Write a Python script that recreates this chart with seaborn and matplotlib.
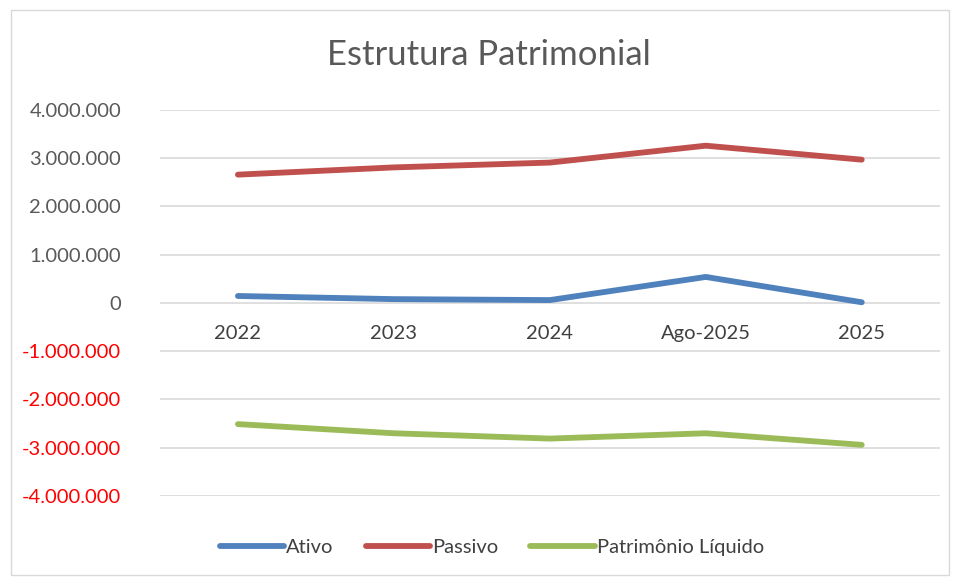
import matplotlib
matplotlib.use("Agg")
import matplotlib.pyplot as plt
import matplotlib.patches as mpatches
import pandas as pd
import seaborn as sns

# values
anos = ["2022", "2023", "2024", "Ago-2025", "2025"]
ativo = [145000, 80000, 60000, 540000, 15000]
passivo = [2660000, 2810000, 2910000, 3260000, 2970000]
patrimonio = [-2510000, -2700000, -2810000, -2700000, -2940000]
series = ["Ativo", "Passivo", "Patrimônio Líquido"]
cores = ["#4F81BD", "#C0504D", "#9BBB59"]
yticks = [-4000000, -3000000, -2000000, -1000000, 0, 1000000, 2000000, 3000000, 4000000]

df = pd.DataFrame({
    "ano": anos * 3,
    "valor": ativo + passivo + patrimonio,
    "serie": [s for s in series for _ in anos],
})

sns.set_theme(style="white")
plt.rcParams["font.family"] = ["Lato", "DejaVu Sans"]

fig = plt.figure(figsize=(9.55, 5.81), dpi=100)
ax = fig.add_axes([0.1675, 0.1463, 0.8165, 0.6644])

sns.lineplot(data=df, x="ano", y="valor", hue="serie", hue_order=series,
             palette=cores, sort=False, linewidth=4.2, ax=ax, legend=True)
for ln in ax.lines:
    ln.set_solid_capstyle("round")

ax.set_xlim(-0.5, len(anos) - 0.5)
ax.set_ylim(yticks[0], yticks[-1])
ax.set_yticks(yticks)
ax.set_yticklabels([f"{v:,}".replace(",", ".") for v in yticks])
for lbl, v in zip(ax.get_yticklabels(), yticks):
    lbl.set_color("#FF0000" if v < 0 else "#595959")
ax.tick_params(axis="y", labelsize=14.5, length=0, pad=28)
ax.grid(axis="y", color="#D9D9D9", linewidth=1.2)
ax.set_axisbelow(True)

# category axis crosses at zero
ax.spines["bottom"].set_position(("data", 0))
ax.spines["bottom"].set_visible(False)
for s in ["top", "right", "left"]:
    ax.spines[s].set_visible(False)
ax.tick_params(axis="x", labelsize=14.5, labelcolor="#404040", length=0, pad=16)
ax.set_xlabel("")
ax.set_ylabel("")

fig.text(0.512, 0.905, "Estrutura Patrimonial", ha="center", va="center",
         fontsize=25, color="#595959")

handles, labels = ax.get_legend_handles_labels()
ax.legend(handles, labels, loc="center", bbox_to_anchor=(0.515, 0.057),
          bbox_transform=fig.transFigure, ncol=3, frameon=False,
          fontsize=14.5, handlelength=3.2, handletextpad=0.1, columnspacing=1.6,
          labelcolor="#404040")

fig.patches.append(mpatches.Rectangle((0.011, 0.01), 0.983, 0.972, transform=fig.transFigure,
                                      fill=False, edgecolor="#D9D9D9", linewidth=1))

fig.savefig("out.png", dpi=100)
